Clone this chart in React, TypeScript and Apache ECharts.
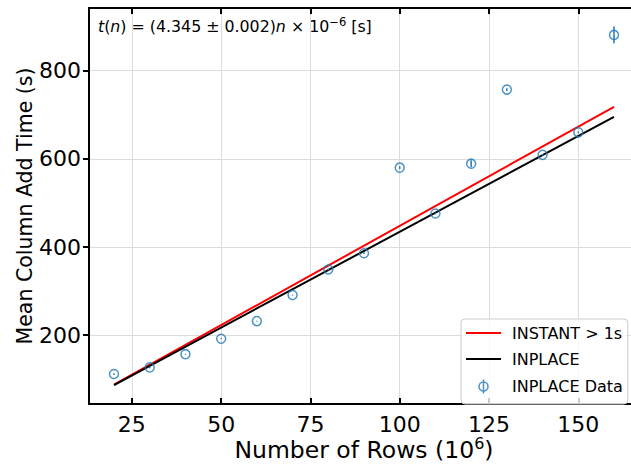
import React, { useEffect, useRef } from "react";
import * as echarts from "echarts";

const rowsN = [20, 30, 40, 50, 60, 70, 80, 90, 100, 110, 120, 130, 140, 150, 160];
const meanTime = [112, 127, 157, 192, 232, 291, 349, 386, 580, 476, 589, 757, 609, 660, 881];
const timeErr = [2, 2, 1, 1, 1, 1, 2, 2, 3, 2, 8, 3, 2, 2, 19];
const fitN = [20, 160];
const instantFit = [88, 718];
const inplaceFit = [86.9, 695.2];
const xTicks = [25, 50, 75, 100, 125, 150];
const yTicks = [200, 400, 600, 800];

const BLUE = "#1f77b4";
const FONT = "DejaVu Sans";
const LINE_ICON = "path://M0,0 L35,0 L35,2 L0,2 Z";

export default function App() {
  const ref = useRef<HTMLDivElement>(null);
  useEffect(() => {
    document.body.style.margin = "0";
    if (!ref.current) return;
    const chart = echarts.init(ref.current, null, { renderer: "svg" });
    const pts = rowsN.map((n, i) => [n, meanTime[i], timeErr[i]]);
    const option: any = {
      animation: false,
      backgroundColor: "#ffffff",
      textStyle: { fontFamily: FONT, color: "#000" },
      grid: { left: 89, right: -8, top: 8, bottom: 61, outerBoundsMode: "none", containLabel: false },
      xAxis: [
        {
          type: "value",
          min: 13,
          max: 167,
          position: "bottom",
          name: "Number of Rows (10{s|6})",
          nameLocation: "middle",
          nameGap: 34,
          nameMoveOverlap: false,
          nameTextStyle: {
            fontSize: 23.5,
            lineHeight: 24,
            fontFamily: FONT,
            color: "#000",
            rich: { s: { fontSize: 16, lineHeight: 12, fontFamily: FONT, color: "#000", padding: [0, 0, 13, 0] } },
          },
          axisLine: { show: true, lineStyle: { color: "#000", width: 2 } },
          axisTick: { show: true, inside: true, length: 6, customValues: xTicks, lineStyle: { color: "#000", width: 2 } },
          axisLabel: { show: true, customValues: xTicks, fontSize: 22, fontFamily: FONT, color: "#000", margin: 9 },
          splitLine: { show: true, lineStyle: { color: "#dcdcdc", width: 1 } },
        },
        {
          type: "value",
          min: 13,
          max: 167,
          position: "top",
          axisLine: { show: true, onZero: false, lineStyle: { color: "#000", width: 2 } },
          axisTick: { show: true, inside: true, length: 6, customValues: xTicks, lineStyle: { color: "#000", width: 2 } },
          axisLabel: { show: false },
          splitLine: { show: false },
        },
      ],
      yAxis: {
        type: "value",
        min: 44,
        max: 942,
        name: "Mean Column Add Time (s)",
        nameLocation: "middle",
        nameGap: 54,
        nameMoveOverlap: false,
        nameTextStyle: { fontSize: 20.5, fontFamily: FONT, color: "#000" },
        axisLine: { show: true, onZero: false, lineStyle: { color: "#000", width: 2 } },
        axisTick: { show: true, inside: false, length: 6, customValues: yTicks, lineStyle: { color: "#000", width: 2 } },
        axisLabel: { show: true, customValues: yTicks, fontSize: 22, fontFamily: FONT, color: "#000", margin: 8 },
        splitLine: { show: true, lineStyle: { color: "#dcdcdc", width: 1 } },
      },
      legend: {
        orient: "vertical",
        left: 461,
        top: 319,
        padding: [6, 5, 8, 5],
        itemWidth: 35,
        itemHeight: 14,
        itemGap: 10,
        selectedMode: false,
        backgroundColor: "rgba(255,255,255,0.8)",
        borderColor: "#cccccc",
        borderWidth: 1,
        borderRadius: 4,
        textStyle: { fontSize: 16, fontFamily: FONT, color: "#000", padding: [0, 0, 0, 6] },
        data: [
          { name: "INSTANT > 1s", icon: LINE_ICON },
          { name: "INPLACE", icon: LINE_ICON },
          {
            name: "INPLACE Data",
            icon: "path://M5,0 L5,14 M9.5,7 A4.5,4.5 0 1,1 0.5,7 A4.5,4.5 0 1,1 9.5,7 Z",
            itemStyle: { color: "none", borderColor: BLUE, borderWidth: 1.5 },
          },
        ],
      },
      graphic: [
        {
          type: "text",
          left: 98,
          top: 16,
          style: {
            text: "{i|t}({i|n}) = (4.345 ± 0.002){i|n} × 10{s|−6} [s]",
            fontSize: 15.8,
            fontFamily: FONT,
            fill: "#000",
            rich: {
              i: { fontStyle: "italic", fontSize: 15.8, fontFamily: FONT, fill: "#000" },
              s: { fontSize: 11.5, fontFamily: FONT, fill: "#000", padding: [0, 0, 9, 0] },
            },
          },
        },
      ],
      series: [
        {
          name: "INSTANT > 1s",
          type: "line",
          data: fitN.map((n, i) => [n, instantFit[i]]),
          symbol: "none",
          lineStyle: { color: "#ff0000", width: 2 },
          itemStyle: { color: "#ff0000" },
          z: 2,
        },
        {
          name: "INPLACE",
          type: "line",
          data: fitN.map((n, i) => [n, inplaceFit[i]]),
          symbol: "none",
          lineStyle: { color: "#000000", width: 2 },
          itemStyle: { color: "#000000" },
          z: 3,
        },
        {
          name: "errors",
          type: "custom",
          data: pts,
          z: 4,
          renderItem: (params: any, api: any) => {
            const x = api.value(0);
            const y = api.value(1);
            const e = api.value(2);
            const p1 = api.coord([x, y - e]);
            const p2 = api.coord([x, y + e]);
            return {
              type: "line",
              shape: { x1: p1[0], y1: p1[1], x2: p2[0], y2: p2[1] },
              style: { stroke: BLUE, lineWidth: 1.5 },
            };
          },
        },
        {
          name: "INPLACE Data",
          type: "scatter",
          data: pts.map((p) => [p[0], p[1]]),
          symbol: "circle",
          symbolSize: 9,
          itemStyle: { color: "rgba(0,0,0,0)", borderColor: BLUE, borderWidth: 1.5 },
          z: 5,
        },
      ],
    };
    chart.setOption(option);
    return () => chart.dispose();
  }, []);
  return <div ref={ref} style={{ width: 631, height: 465 }} />;
}
